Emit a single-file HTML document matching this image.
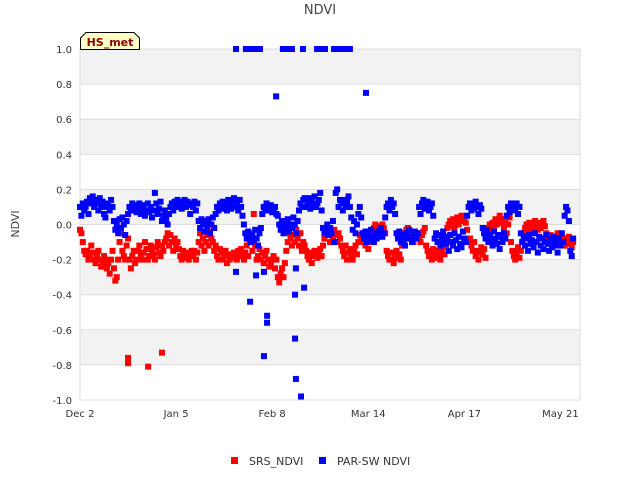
<!DOCTYPE html>
<html><head><meta charset="utf-8"><style>
body{margin:0;background:#fff;font-family:"DejaVu Sans","Liberation Sans",sans-serif;}
svg text{font-family:"DejaVu Sans","Liberation Sans",sans-serif;}
</style></head><body>
<svg id="chart" width="640" height="480" xmlns="http://www.w3.org/2000/svg">
<g id="bands"></g>
<g id="grid"></g>
<g id="yticks"></g>
<g id="xticks"></g>
<g id="srs"></g>
<g id="par"></g>
<text x="320" y="14" text-anchor="middle" font-size="13" fill="#444">NDVI</text>
<text x="0" y="0" transform="translate(19,224) rotate(-90)" text-anchor="middle" font-size="11" fill="#444">NDVI</text>
<g>
<path d="M80.5,49.5 L80.5,38 L86,32.5 L134,32.5 L139.5,38 L139.5,49.5 Z" fill="#ffffc8" stroke="#000" stroke-width="1"/>
<text x="110" y="46" text-anchor="middle" font-size="11" font-weight="bold" fill="#8b0000">HS_met</text>
</g>
<g>
<rect x="231" y="457" width="7" height="7" fill="#ff0000"/>
<text x="249" y="465" font-size="11" fill="#333">SRS_NDVI</text>
<rect x="319" y="457" width="7" height="7" fill="#0000ff"/>
<text x="337" y="465" font-size="11" fill="#333">PAR-SW NDVI</text>
</g>
</svg>
<script>
// values at half-day steps starting Dec 2
const srsVals=[
-0.03,-0.05,-0.1,-0.15,-0.17,-0.15,-0.2,-0.18,-0.12,-0.16,-0.2,-0.22,-0.18,-0.15,-0.2,-0.24,-0.22,-0.18,-0.2,-0.25,
-0.22,-0.28,-0.2,-0.15,-0.25,-0.32,-0.3,-0.2,-0.1,-0.05,-0.15,-0.18,-0.2,-0.12,-0.08,-0.2,-0.25,-0.18,-0.15,-0.22,
-0.2,-0.15,-0.12,-0.18,-0.2,-0.16,-0.1,-0.14,-0.2,-0.18,-0.12,-0.15,-0.17,-0.2,-0.13,-0.1,-0.16,-0.18,-0.12,-0.15,
-0.1,-0.08,-0.05,-0.12,-0.06,-0.1,-0.15,-0.08,-0.12,-0.1,-0.14,-0.18,-0.2,-0.15,-0.17,-0.19,-0.16,-0.2,-0.18,-0.15,
-0.17,-0.15,-0.2,-0.16,-0.1,-0.05,-0.12,-0.08,-0.15,-0.1,-0.06,-0.12,-0.04,-0.08,-0.1,-0.15,-0.12,-0.18,-0.2,-0.14,
-0.16,-0.2,-0.18,-0.15,-0.22,-0.18,-0.2,-0.17,-0.19,-0.16,-0.18,-0.2,-0.15,-0.17,-0.14,-0.18,-0.2,-0.16,-0.12,-0.18,
-0.1,-0.05,-0.15,0.06,-0.12,-0.2,-0.18,-0.14,-0.2,-0.16,-0.22,-0.18,-0.15,-0.2,-0.24,-0.22,-0.2,-0.18,-0.25,-0.2,
-0.3,-0.33,-0.28,-0.25,-0.3,-0.22,-0.15,-0.1,-0.05,-0.08,-0.12,-0.06,-0.1,-0.03,-0.08,-0.12,-0.05,-0.15,-0.1,-0.12,
-0.15,-0.18,-0.2,-0.16,-0.22,-0.18,-0.15,-0.17,-0.19,-0.16,-0.14,-0.18,-0.12,-0.08,-0.05,-0.02,-0.06,-0.1,-0.04,-0.08,
-0.03,-0.06,-0.1,-0.05,-0.08,-0.12,-0.15,-0.18,-0.12,-0.2,-0.16,-0.14,-0.18,-0.2,-0.15,-0.12,-0.17,-0.1,-0.06,-0.08,
-0.05,-0.1,-0.12,-0.08,-0.14,-0.06,-0.1,-0.04,-0.02,0,-0.03,-0.05,-0.01,-0.04,0,-0.02,-0.05,-0.15,-0.18,-0.2,
-0.16,-0.2,-0.22,-0.18,-0.15,-0.19,-0.17,-0.2,-0.12,-0.08,-0.05,-0.03,-0.02,-0.05,-0.04,-0.08,-0.1,-0.06,-0.08,-0.05,
-0.07,-0.1,-0.06,-0.04,-0.02,-0.12,-0.15,-0.18,-0.16,-0.2,-0.14,-0.17,-0.19,-0.15,-0.18,-0.2,-0.16,-0.13,-0.17,-0.12,
-0.02,0,0.02,-0.01,0.03,-0.02,0.01,0.04,0,0.03,0.05,0.02,0.04,0.01,-0.03,-0.1,-0.08,-0.12,-0.15,-0.1,
-0.18,-0.15,-0.2,-0.16,-0.13,-0.17,-0.14,-0.19,-0.02,-0.04,0,-0.03,0.01,-0.02,0.03,0,0.02,0.05,0.03,0.01,
-0.02,0.02,-0.05,0,0.04,-0.1,-0.15,-0.18,-0.2,-0.16,-0.13,-0.19,-0.15,-0.1,-0.05,-0.02,0,-0.03,0.01,-0.02,
0,-0.04,0.02,-0.01,-0.03,0.01,-0.02,0,0.02,-0.01,-0.05,-0.08,-0.1,-0.06,-0.09,-0.12,-0.07,-0.1,-0.05,-0.08,
-0.06,-0.1,-0.08,-0.12,-0.09,-0.11,-0.07,-0.1,-0.13,-0.1];
const parVals=[
0.1,0.05,0.12,0.08,0.1,0.13,0.06,0.15,0.12,0.16,0.1,0.14,0.12,0.08,0.15,0.1,0.13,0.06,0.04,0.1,
0.12,0.08,0.14,0.1,0.02,-0.03,0.0,-0.05,0.03,-0.02,0.04,0.0,-0.06,0.02,0.06,0.1,0.08,0.12,0.09,0.11,
0.07,0.1,0.12,0.06,0.09,0.11,0.05,0.08,0.12,0.07,0.1,0.04,0.08,0.18,0.12,0.06,0.09,0.13,0.02,0.05,
0.08,0.03,0.0,0.06,0.1,0.12,0.08,0.13,0.1,0.14,0.11,0.13,0.09,0.12,0.14,0.1,0.13,0.11,0.06,0.12,
0.1,0.13,0.08,0.12,0.02,-0.02,0.03,0.0,-0.04,0.02,-0.01,0.03,-0.05,0.0,0.04,-0.02,0.06,0.1,0.08,0.12,
0.09,0.13,0.1,0.12,0.08,0.14,0.11,0.09,0.13,0.15,0.1,0.12,0.08,0.14,0.1,0.05,0.0,-0.05,-0.08,-0.04,
-0.07,-0.1,-0.06,-0.09,-0.03,-0.08,-0.12,-0.05,-0.02,0.06,0.1,0.08,0.12,0.1,0.08,0.11,0.07,0.09,0.1,0.06,
0.05,0.0,-0.03,0.02,-0.05,0.0,-0.02,0.03,-0.04,0.0,-0.02,0.04,0.0,-0.05,0.02,0.08,0.12,0.1,0.14,0.15,
0.1,0.12,0.15,0.09,0.13,0.11,0.16,0.1,0.12,0.14,0.18,0.08,-0.02,-0.05,-0.03,0.0,-0.06,-0.02,-0.05,0.02,
-0.1,0.18,0.2,0.1,0.14,0.12,0.08,0.14,0.1,0.13,0.16,0.1,0.04,-0.03,0.02,-0.05,0.0,0.06,0.1,0.04,
-0.05,-0.08,-0.04,-0.1,-0.06,-0.09,-0.03,-0.07,-0.1,-0.05,-0.08,-0.04,-0.06,-0.02,-0.07,-0.05,0.04,0.1,0.12,0.08,
0.14,0.1,0.12,0.06,-0.05,-0.08,-0.04,-0.1,-0.06,-0.09,-0.12,-0.05,-0.08,-0.03,-0.07,-0.1,-0.06,-0.04,-0.08,-0.05,
0.1,0.06,0.12,0.14,0.09,0.11,0.13,0.08,0.1,0.12,0.05,-0.08,-0.05,-0.1,-0.06,-0.12,-0.09,-0.04,-0.07,-0.11,
-0.08,-0.15,-0.06,-0.1,-0.12,-0.05,-0.09,-0.14,-0.07,-0.11,-0.13,-0.04,-0.08,-0.1,0.05,0.1,0.12,0.08,0.11,0.09,
0.13,0.1,0.06,0.11,0.09,-0.02,-0.05,-0.08,-0.03,-0.1,-0.06,-0.09,-0.12,-0.04,-0.08,-0.11,-0.06,-0.14,-0.07,-0.1,
-0.05,-0.08,0.05,0.1,0.07,0.12,0.09,0.11,0.08,0.12,0.06,0.1,-0.05,-0.1,-0.07,-0.12,-0.08,-0.15,-0.06,-0.11,
-0.09,-0.13,-0.05,-0.1,-0.16,-0.07,-0.12,-0.08,-0.14,-0.1,-0.06,-0.11,-0.15,-0.09,-0.13,-0.07,-0.12,-0.1,-0.16,-0.08,
-0.12,-0.05,-0.1,0.05,0.1,0.08,0.02,-0.15,-0.18,-0.08];
const srsOutDays=[17.0,17.0,24.1,29.0];
const srsOutVals=[-0.76,-0.79,-0.81,-0.73];
const parOutDays=[55.2,58.7,59.5,60.2,61,61.9,62.6,63.7,71.8,72.6,73.5,74.3,75,78.9,83.9,85.3,86.7,89.9,91,92,93,94,95.5,69.4,101.2,55.2,60.2,66.2,66.2,65.1,62.3,65.1,76.1,79.3,76.1,76.4,78.2,76.4];
const parOutVals=[1,1,1,1,1,1,1,1,1,1,1,1,1,1,1,1,1,1,1,1,1,1,1,0.73,0.75,-0.27,-0.44,-0.52,-0.56,-0.75,-0.29,-0.27,-0.4,-0.36,-0.65,-0.88,-0.98,-0.25];
const yTicks=[-1.0,-0.8,-0.6,-0.4,-0.2,0.0,0.2,0.4,0.6,0.8,1.0];
const xTickDays=[0,34,68,102,136,170];
const xTickLabels=["Dec 2","Jan 5","Feb 8","Mar 14","Apr 17","May 21"];

const L=80,R=580,T=49,B=400,dayPx=2.826;
const xs=d=>L+d*dayPx;
const ys=v=>B-(v+1)/2*(B-T);
const NS="http://www.w3.org/2000/svg";
function mk(tag,attrs,parent){const e=document.createElementNS(NS,tag);for(const k in attrs)e.setAttribute(k,attrs[k]);parent.appendChild(e);return e;}
const bands=document.getElementById('bands'),grid=document.getElementById('grid');
mk('rect',{x:L,y:T,width:R-L,height:B-T,fill:'#fff'},bands);
for(let i=0;i<yTicks.length-1;i++){
  if(i%2===1){const r=mk('rect',{x:L,y:ys(yTicks[i+1]),width:R-L,height:ys(yTicks[i])-ys(yTicks[i+1]),fill:'#f2f2f2'},bands);
  
  }
}
const yt=document.getElementById('yticks');
yTicks.forEach(v=>{
  const ln=mk('line',{x1:L,x2:R,y1:ys(v),y2:ys(v),stroke:'#ddd','stroke-width':1},grid);
  
  
  const t=mk('text',{x:L-8,y:ys(v)+4,'text-anchor':'end','font-size':10,fill:'#333'},yt);
  t.textContent=v.toFixed(1);
  
  
});
mk('line',{x1:R,x2:R,y1:T,y2:B,stroke:'#ddd'},grid);
mk('line',{x1:L,x2:L,y1:T,y2:B,stroke:'#ddd'},grid);
const xt=document.getElementById('xticks');
xTickDays.forEach((d,i)=>{
  const t=mk('text',{x:xs(d),y:B+17,'text-anchor':'middle','font-size':10,fill:'#333'},xt);
  t.textContent=xTickLabels[i];
  
  
});
function pts(g,days,vals,color){
  vals.forEach((v,i)=>{
    const r=mk('rect',{x:xs(days(i))-3,y:ys(v)-3,width:6,height:6,fill:color},g);
    
    
  });
}
const srsG=document.getElementById('srs'),parG=document.getElementById('par');
pts(srsG,i=>i*0.5,srsVals,'#ff0000');
pts(srsG,i=>srsOutDays[i],srsOutVals,'#ff0000');
pts(parG,i=>i*0.5,parVals,'#0000ff');
pts(parG,i=>parOutDays[i],parOutVals,'#0000ff');
</script>
</body></html>
